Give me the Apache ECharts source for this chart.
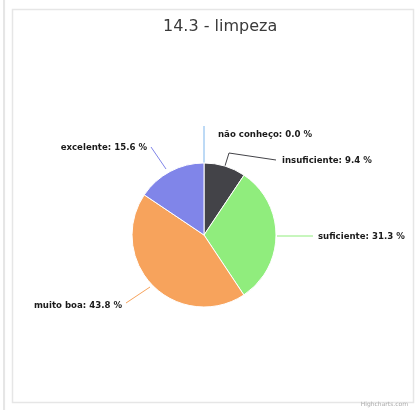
<!DOCTYPE html>
<html><head><meta charset="utf-8">
<script src="https://cdn.jsdelivr.net/npm/echarts@6/dist/echarts.min.js"></script>
<style>html,body{margin:0;padding:0;background:#fff}#c{width:418px;height:410px}</style>
</head><body><div id="c"></div>
<script>
var titleText = '14.3 - limpeza';
var categories = ['não conheço', 'insuficiente', 'suficiente', 'muito boa', 'excelente'];
var values = [0.0, 9.4, 31.3, 43.8, 15.6];
var colors = ['#7cb5ec', '#434348', '#90ed7d', '#f7a35c', '#8085e9'];

// label placement (layout only)
var labelSpots = [
  {x: 218, y: 135, line: [[204, 163], [204, 126]]},
  {x: 282, y: 161, line: [[224, 169], [229, 153], [276, 160]]},
  {x: 318, y: 237, line: [[277, 236], [313, 236]]},
  {x: 122, y: 306, align: 'right', line: [[150, 287], [126, 303]]},
  {x: 147, y: 148, align: 'right', line: [[166, 169], [151, 147]]}
];

var chart = echarts.init(document.getElementById('c'), null, {renderer: 'canvas'});
chart.setOption({
  animation: false,
  backgroundColor: '#fff',
  title: {
    text: titleText, left: 158, top: 14,
    textStyle: {fontFamily: 'DejaVu Sans', fontSize: 16, fontWeight: 'normal', color: '#3a3a3a'}
  },
  graphic: [
    {type: 'rect', shape: {x: 4, y: -2, width: 0.1, height: 420}, style: {stroke: '#e6e6e6', lineWidth: 2, fill: null}},
    {type: 'rect', shape: {x: 12.5, y: 9.5, width: 401, height: 393}, style: {stroke: '#e6e6e6', lineWidth: 1.5, fill: null}},
    {type: 'text', right: 10, bottom: 3, style: {text: 'Highcharts.com', fontSize: 6, fill: '#aaa', fontFamily: 'DejaVu Sans'}}
  ],
  series: [{
    type: 'pie',
    center: [204, 235],
    radius: 72,
    startAngle: 90,
    clockwise: true,
    avoidLabelOverlap: false,
    minShowLabelAngle: 0,
    stillShowZeroSum: true,
    itemStyle: {borderColor: '#fff', borderWidth: 1},
    label: {
      formatter: function (p) { return p.name + ': ' + p.value.toFixed(1) + ' %'; },
      fontFamily: 'DejaVu Sans', fontSize: 8.6, fontWeight: 'bold', color: '#1a1a1a'
    },
    labelLine: {length: 22, length2: 30, lineStyle: {width: 1}},
    labelLayout: function (p) {
      var s = labelSpots[p.dataIndex];
      var w = p.labelRect.width;
      return {
        x: s.align === 'right' ? s.x - w : s.x,
        y: s.y,
        align: 'left',
        verticalAlign: 'middle',
        labelLinePoints: s.line
      };
    },
    emphasis: {disabled: true},
    data: categories.map(function (c, i) {
      return {name: c, value: values[i], itemStyle: {color: colors[i]}, labelLine: {lineStyle: {color: colors[i]}}};
    })
  }]
});
</script></body></html>
